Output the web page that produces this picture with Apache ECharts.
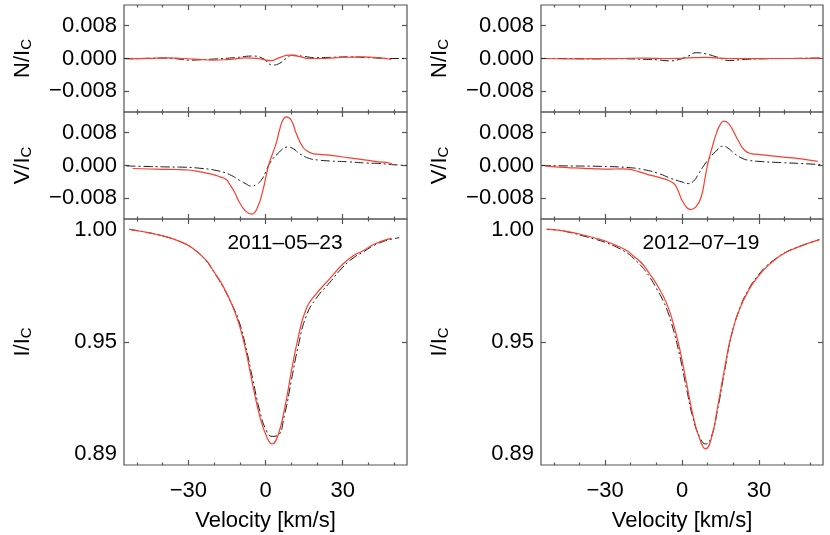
<!DOCTYPE html>
<html>
<head>
<meta charset="utf-8">
<script src="https://cdn.jsdelivr.net/npm/echarts@6/dist/echarts.min.js"></script>
<style>
html,body{margin:0;padding:0;background:#fff;}
#chart{width:830px;height:535px;}
</style>
</head>
<body>
<div id="chart"></div>
<script>
// ---------------- DATA ----------------
const dateLabels = ['2011\u201305\u201323', '2012\u201307\u201319'];
const xMajor = [-30, 0, 30];
const xMinor = [-50, -40, -20, -10, 10, 20, 40, 50];
const yTicksNV = [-0.008, 0, 0.008];
const yLabelsI = ['0.89', '0.95', '1.00'];

// Left column (2011-05-23)
const velN_L_red = [-53,-45,-38.8,-32.3,-26,-20.5,-14,-7.5,-3,-1,2.2,5,9.3,13,17.1,22,26.2,32,37.9,44,48.9];
const N_L_red = [-0.0001,0.00005,0.00015,0,-0.0002,-0.0004,-0.0002,0.00015,0,-0.00025,-0.0005,0.0001,0.0008,0.0005,0,0,0.00015,0.0003,0.0004,0.0002,-0.00025];
const velN_L_blk = [-55,-53,-45,-38.8,-34,-29.9,-25,-19.2,-12,-4.9,-1,2.8,5.4,8,10.6,15,19.7,26,32.7,40,49.5,55];
const N_L_blk = [0,-0.00005,0.00005,0.0001,-0.0001,-0.0004,-0.0003,-0.0001,0.0002,0.0006,0,-0.0016,-0.0012,0,0.0008,0.0005,0.0002,0.0003,0.0004,0.0002,0,0];

const velV_L_red = [-51.6,-45,-40,-34.8,-30,-25.7,-21,-17.9,-15.3,-14,-12,-10.1,-7.5,-5.3,-3,-1,1.2,4.1,5.4,6.7,8,10,12,14.5,16.5,18.4,21,26.2,32,39.2,44,48.2,49.5];
const V_L_red = [-0.00073,-0.00085,-0.00092,-0.00097,-0.0011,-0.0015,-0.0021,-0.0027,-0.0034,-0.0045,-0.0065,-0.0090,-0.0112,-0.0118,-0.0100,-0.0060,0,0.0053,0.0085,0.0110,0.0118,0.0110,0.0077,0.0045,0.0034,0.0029,0.0027,0.0024,0.0019,0.0013,0.0009,0.0006,0.0001];
const velV_L_blk = [-54,-45,-38,-32.2,-25,-19.2,-14,-10.1,-7.5,-5.6,-3.5,-1.7,0,1.6,4.8,8.7,11,13.2,17.1,21,24.9,32,39.2,44,49.5,55];
const V_L_blk = [-0.0001,-0.00025,-0.00035,-0.0004,-0.0007,-0.0012,-0.0022,-0.0036,-0.0045,-0.0050,-0.0046,-0.0036,-0.0017,0.0005,0.0029,0.0045,0.0040,0.0029,0.0017,0.0013,0.0011,0.0009,0.0006,0.0005,0.0002,0];

const velI_L_red = [-53,-48,-43,-38.8,-33,-28.3,-23.1,-20.5,-16.6,-12.7,-10.1,-7.5,-4.9,-2.3,0.3,2.6,4.8,7.4,10,12.6,15.8,19.7,24.9,30.1,34,37.9,41.8,45,48.9];
const I_L_red = [1.0004,0.9994,0.9983,0.9971,0.9948,0.9919,0.9866,0.9822,0.9752,0.9658,0.9573,0.9454,0.9305,0.9171,0.9081,0.9044,0.9081,0.9201,0.9365,0.9514,0.9648,0.9715,0.9782,0.9849,0.9885,0.9908,0.9935,0.9950,0.9963];
const velI_L_blk = [-53,-48,-43,-38.8,-33,-28.3,-23.1,-20.5,-16.6,-12.7,-10.1,-7.5,-4.9,-2.3,0.3,2.6,4.8,7.4,10,12.6,15.8,19.7,24.9,30.1,34,37.9,41.8,45,48.9,52];
const I_L_blk = [1.0004,0.9994,0.9983,0.9971,0.9948,0.9919,0.9864,0.9820,0.9748,0.9660,0.9585,0.9470,0.9330,0.9195,0.9105,0.9078,0.9082,0.9175,0.9325,0.9475,0.9615,0.9695,0.9765,0.9835,0.9875,0.9902,0.9930,0.9946,0.9960,0.9966];

// Right column (2012-07-19)
const velN_R_red = [-53,-45,-35,-25,-15,-5,0,5,9,13,18,25,35,45,54];
const N_R_red = [0,-0.0001,-0.00005,0,0.0001,0,0.0001,0.0002,0.00025,0.00015,0,-0.00005,0,0,0.0001];
const velN_R_blk = [-55,-45,-35,-25,-15,-10,-4.8,-0.9,2.5,5.6,9.5,13.4,18.6,23.7,30,40,54.5];
const N_R_blk = [0,0,-0.0001,-0.00005,-0.0002,-0.0003,-0.00057,-0.0002,0.0006,0.0014,0.0011,0.0004,-0.0005,-0.00025,-0.0001,0,0.0001];

const velV_R_red = [-53.4,-48,-41.8,-35,-28.8,-24,-21,-17,-13.2,-9,-5.4,-3,-1.6,0.5,3.4,5.5,7.5,9,10.1,11.8,13.4,14.8,16.3,18,19.8,22,24.4,27,29.6,38.7,46.5,52.9];
const V_R_red = [-0.0001,-0.0004,-0.0006,-0.00075,-0.0009,-0.0008,-0.0009,-0.0015,-0.0022,-0.0029,-0.0036,-0.0045,-0.0060,-0.0090,-0.0107,-0.0100,-0.0076,-0.0030,0.0005,0.0045,0.0078,0.0098,0.0108,0.0103,0.0086,0.0060,0.0037,0.0029,0.0027,0.0021,0.0016,0.0010];
const velV_R_blk = [-54.7,-45,-32.7,-21,-15,-9.3,-4,0,2.5,4.5,6.2,8,10.1,13,16,18,20.5,23,25.7,30,38.7,46,54.5];
const V_R_blk = [0,-0.0001,-0.0002,-0.0005,-0.001,-0.0019,-0.0032,-0.0040,-0.0044,-0.0038,-0.0023,-0.0005,0.0013,0.0033,0.0047,0.0042,0.0029,0.0019,0.0013,0.0010,0.0007,0.0005,0.0002];

const velI_R = [-52.8,-48.3,-43,-39.1,-34,-30.1,-25.5,-21,-19.1,-15.5,-12.6,-10,-7.4,-5.4,-3.5,-0.9,1.7,4.3,6.9,9.2,11.4,14,16.6,19.2,22.5,26.3,29.5,32.8,36.5,40.6,44.5,48.4,53.6];
const I_R_red = [1.0004,1.0000,0.9990,0.9980,0.9965,0.9952,0.9931,0.9905,0.9886,0.9850,0.9804,0.9760,0.9707,0.9655,0.9588,0.9469,0.9320,0.9171,0.9067,0.9022,0.9067,0.9216,0.9380,0.9529,0.9648,0.9737,0.9790,0.9834,0.9870,0.9901,0.9921,0.9938,0.9958];
const I_R_blk = [1.0004,1.0000,0.9988,0.9976,0.9960,0.9946,0.9924,0.9895,0.9876,0.9835,0.9790,0.9740,0.9685,0.9630,0.9560,0.9440,0.9295,0.9160,0.9075,0.9044,0.9075,0.9205,0.9370,0.9525,0.9650,0.9742,0.9795,0.9838,0.9872,0.9902,0.9922,0.9938,0.9958];

// --------------- LAYOUT ---------------
const FONT = '"Liberation Sans", Arial, Helvetica, sans-serif';
const FRAME = '#555';
const RED = '#ff3b2e';
const BLK = '#1a1a1a';
const colLeft = [124, 541];
const colWidth = [283, 282];
const rowTop = [5, 112, 219];
const rowHeight = [107, 107, 246];
const yNames = ['N/I', 'V/I', 'I/I'];

const panels = [
  [ {red:[velN_L_red,N_L_red], blk:[velN_L_blk,N_L_blk]},
    {red:[velV_L_red,V_L_red], blk:[velV_L_blk,V_L_blk]},
    {red:[velI_L_red,I_L_red], blk:[velI_L_blk,I_L_blk]} ],
  [ {red:[velN_R_red,N_R_red], blk:[velN_R_blk,N_R_blk]},
    {red:[velV_R_red,V_R_red], blk:[velV_R_blk,V_R_blk]},
    {red:[velI_R,I_R_red], blk:[velI_R,I_R_blk]} ]
];

function pairs(xs, ys){ return xs.map((x,i)=>[x, ys[i]]); }
function minusFmt(s){ return String(s).replace('-', '\u2212'); }

const grid = [], xAxis = [], yAxis = [], series = [];
let g = 0;
for (let c = 0; c < 2; c++) {
  for (let r = 0; r < 3; r++) {
    grid.push({left: colLeft[c], top: rowTop[r], width: colWidth[c], height: rowHeight[r],
      show: true, borderColor: FRAME, borderWidth: 1.2, backgroundColor: 'transparent',
      containLabel: false, outerBoundsMode: 'none'});
    const isBottom = r === 2;
    const baseX = {type:'value', gridIndex:g, min:-55, max:55,
      axisLine:{show:false, onZero:false}, splitLine:{show:false}};
    xAxis.push(Object.assign({}, baseX, {position:'bottom',
      axisTick:{show:true, inside:true, length:5, customValues:xMajor, lineStyle:{color:FRAME, width:1.2}},
      axisLabel:{show:isBottom, customValues:xMajor, margin:15, fontSize:22, fontFamily:FONT, color:'#000',
        formatter:(v)=>minusFmt(v)},
      name: isBottom ? 'Velocity [km/s]' : '', nameLocation:'middle', nameGap:45,
      nameTextStyle:{fontSize:22, fontFamily:FONT, color:'#000'}}));
    xAxis.push(Object.assign({}, baseX, {position:'bottom',
      axisTick:{show:true, inside:true, length:2.5, customValues:xMinor, lineStyle:{color:FRAME, width:1.2}},
      axisLabel:{show:false}}));
    xAxis.push(Object.assign({}, baseX, {position:'top',
      axisTick:{show:true, inside:true, length:5, customValues:xMajor, lineStyle:{color:FRAME, width:1.2}},
      axisLabel:{show:false}}));
    xAxis.push(Object.assign({}, baseX, {position:'top',
      axisTick:{show:true, inside:true, length:2.5, customValues:xMinor, lineStyle:{color:FRAME, width:1.2}},
      axisLabel:{show:false}}));

    let yMin, yMax, tickVals, labelVals, fmt;
    if (r < 2) {
      yMin = -0.013; yMax = 0.013; tickVals = yTicksNV; labelVals = yTicksNV;
      fmt = (v)=> (v < 0 ? '\u2212' : '') + Math.abs(v).toFixed(3);
    } else {
      yMin = 0.895; yMax = 1.005; tickVals = [0.95]; labelVals = [0.895, 0.95, 1.005];
      fmt = (v)=> v < 0.9 ? yLabelsI[0] : (v > 1 ? yLabelsI[2] : yLabelsI[1]);
    }
    const baseY = {type:'value', gridIndex:g, min:yMin, max:yMax,
      axisLine:{show:false, onZero:false}, splitLine:{show:false}};
    yAxis.push(Object.assign({}, baseY, {position:'left',
      axisTick:{show:true, inside:true, length:5, customValues:tickVals, lineStyle:{color:FRAME, width:1.2}},
      axisLabel:{show:true, customValues:labelVals, margin:7, fontSize:22, fontFamily:FONT, color:'#000',
        formatter:fmt, showMinLabel:true, showMaxLabel:true,
        verticalAlignMinLabel: r===2 ? 'bottom' : null, verticalAlignMaxLabel: r===2 ? 'top' : null},
      name:'{a|' + yNames[r] + '}{b|C}', nameLocation:'middle', nameRotate:90, nameGap:90,
      nameTextStyle:{fontFamily:FONT, color:'#000',
        rich:{a:{fontSize:22, fontFamily:FONT, lineHeight:22, verticalAlign:'top', color:'#000'},
              b:{fontSize:15, fontFamily:FONT, lineHeight:15, verticalAlign:'bottom', padding:[13,0,0,0], color:'#000'}}}}));
    yAxis.push(Object.assign({}, baseY, {position:'right',
      axisTick:{show:true, inside:true, length:5, customValues:tickVals, lineStyle:{color:FRAME, width:1.2}},
      axisLabel:{show:false}}));

    const p = panels[c][r];
    series.push({type:'line', xAxisIndex:4*g, yAxisIndex:2*g, data:pairs(p.blk[0], p.blk[1]),
      showSymbol:false, smooth:0.5, silent:true,
      lineStyle:{color:BLK, width:1, type:[9,3,2,3]}});
    series.push({type:'line', xAxisIndex:4*g, yAxisIndex:2*g, data:pairs(p.red[0], p.red[1]),
      showSymbol:false, smooth:0.5, silent:true,
      lineStyle:{color:RED, width:1.2}});
    g++;
  }
}

const graphic = [
  {type:'text', x:285, y:243, style:{text:dateLabels[0], font:'21px ' + FONT, fill:'#000',
    align:'center', verticalAlign:'middle', textAlign:'center', textVerticalAlign:'middle'}},
  {type:'text', x:701, y:243, style:{text:dateLabels[1], font:'21px ' + FONT, fill:'#000',
    align:'center', verticalAlign:'middle', textAlign:'center', textVerticalAlign:'middle'}}
];

const chart = echarts.init(document.getElementById('chart'), null, {renderer:'canvas'});
chart.setOption({animation:false, backgroundColor:'#fff', grid, xAxis, yAxis, series, graphic});
</script>
</body>
</html>
